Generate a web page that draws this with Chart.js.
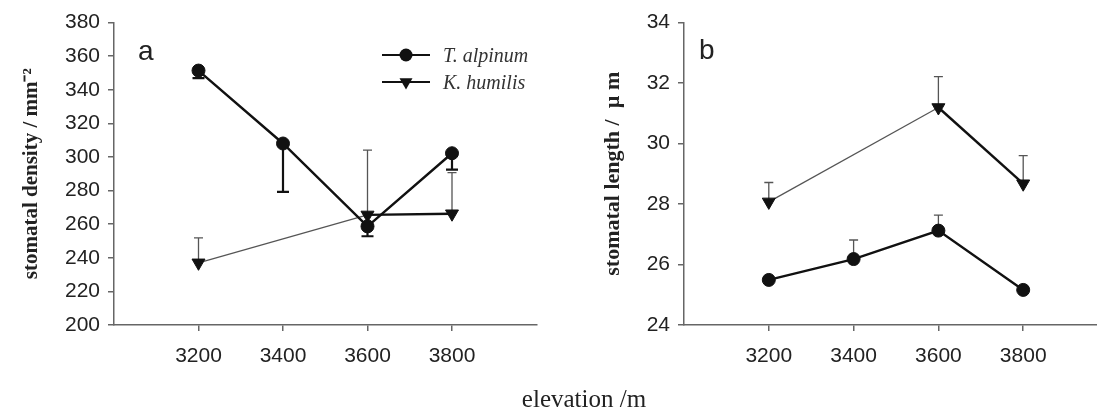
<!DOCTYPE html>
<html><head><meta charset="utf-8">
<script src="https://cdn.jsdelivr.net/npm/chart.js@4.4.0/dist/chart.umd.min.js"></script>
<style>
html,body{margin:0;padding:0;background:#fff;overflow:hidden;width:1097px;height:409px;}
#wrap{position:relative;width:1097px;height:409px;overflow:hidden;background:#fff;}
canvas{position:absolute;top:0;}
#cA{left:0;} #cB{left:540px;}
#xt{position:absolute;top:386px;left:584px;transform:translateX(-50%);font:25px 'Liberation Serif','Times New Roman',serif;line-height:25px;color:#222;white-space:nowrap;}
</style></head><body>
<div id="wrap">
<canvas id="cA" width="545" height="409"></canvas>
<canvas id="cB" width="580" height="409"></canvas>
<div id="xt">elevation /m</div>
</div>
<script>
// ---- data ----
const elevations = [3200, 3400, 3600, 3800];
const xTicks = [3200, 3400, 3600, 3800];
const tDensity = [351.4, 308, 258.7, 302.2];
const tDensityErr = [4.5, 28.8, 5.9, 9.8];
const kElevations = [3200, 3600, 3800];
const kDensity = [237, 265.5, 266.2];
const kDensityErr = [14.8, 38.5, 24.5];
const tLength = [25.49, 26.18, 27.12, 25.16];
const tLengthErr = [0, 0.63, 0.51, 0];
const kLength = [28.07, 31.19, 28.67];
const kLengthErr = [0.64, 1.02, 0.93];
const seriesNames = ['T. alpinum', 'K. humilis'];

const toPts = (xs, ys) => xs.map((x, i) => ({x: x, y: ys[i]}));

const errorBars = {
  id: 'errorBars',
  beforeDatasetsDraw(chart) {
    const {ctx, scales: {x, y}} = chart;
    chart.data.datasets.forEach(ds => {
      if (!ds.errors) return;
      ctx.save();
      ctx.strokeStyle = ds.errColor;
      ctx.lineWidth = ds.errWidth;
      ds.data.forEach((p, i) => {
        const e = ds.errors[i];
        if (!e) return;
        const px = x.getPixelForValue(p.x);
        const py = y.getPixelForValue(p.y);
        const pe = y.getPixelForValue(p.y + ds.errDir * e);
        ctx.beginPath();
        ctx.moveTo(px, py); ctx.lineTo(px, pe);
        ctx.moveTo(px - ds.capHalf, pe); ctx.lineTo(px + ds.capHalf, pe);
        ctx.stroke();
      });
      ctx.restore();
    });
  }
};

function panelLabel(text, x, y) {
  return {
    id: 'panelLabel',
    afterDraw(chart) {
      const ctx = chart.ctx;
      ctx.save();
      ctx.fillStyle = '#222';
      ctx.font = '28px "Liberation Sans", Arial, sans-serif';
      ctx.textBaseline = 'alphabetic';
      ctx.textAlign = 'left';
      ctx.fillText(text, x, y);
      ctx.restore();
    }
  };
}

const legendPlugin = {
  id: 'customLegend',
  afterDraw(chart) {
    const ctx = chart.ctx;
    ctx.save();
    const rows = [{y: 55, tb: 61.5, style: 'circle'}, {y: 82, tb: 88.5, style: 'tri'}];
    rows.forEach((r, i) => {
      ctx.strokeStyle = '#111';
      ctx.lineWidth = 2.2;
      ctx.beginPath(); ctx.moveTo(382, r.y); ctx.lineTo(430, r.y); ctx.stroke();
      ctx.fillStyle = '#111';
      ctx.beginPath();
      if (r.style === 'circle') {
        ctx.arc(406, r.y, 6.5, 0, Math.PI * 2);
      } else {
        const rad = 7.5;
        ctx.moveTo(406, r.y + rad);
        ctx.lineTo(406 - rad * 0.866, r.y - rad / 2);
        ctx.lineTo(406 + rad * 0.866, r.y - rad / 2);
        ctx.closePath();
      }
      ctx.fill();
      ctx.fillStyle = '#333';
      ctx.font = 'italic 20px "Liberation Serif", "Times New Roman", serif';
      ctx.textBaseline = 'alphabetic';
      ctx.fillText(seriesNames[i], 443, r.tb);
    });
    ctx.restore();
  }
};

function makeOptions(cfg) {
  return {
    responsive: false,
    animation: false,
    events: [],
    layout: {padding: {left: cfg.padLeft, right: cfg.padRight, top: 22.5, bottom: 0}},
    plugins: {legend: {display: false}, tooltip: {enabled: false}},
    scales: {
      x: {
        type: 'linear', min: 3000, max: 4000,
        afterBuildTicks: s => { s.ticks = xTicks.map(v => ({value: v})); },
        afterFit: s => { s.height = 84; },
        border: {display: true, color: '#666', width: 1.5},
        grid: {display: true, drawOnChartArea: false, drawTicks: true, tickLength: 6, color: '#666', lineWidth: 1.5},
        ticks: {padding: 13, color: '#222', font: {family: '"Liberation Sans", Arial, sans-serif', size: 21}, callback: v => String(v), maxRotation: 0, autoSkip: false}
      },
      y: {
        min: cfg.ymin, max: cfg.ymax,
        afterFit: s => { s.width = cfg.yWidth; },
        border: {display: true, color: '#666', width: 1.5},
        grid: {display: true, drawOnChartArea: false, drawTicks: true, tickLength: 6, color: '#666', lineWidth: 1.5},
        ticks: {stepSize: cfg.step, padding: 8, color: '#222', font: {family: '"Liberation Sans", Arial, sans-serif', size: 21}, callback: v => String(v)},
        title: {display: true, text: cfg.title, color: '#222', padding: {top: 4, bottom: 0},
          font: {family: '"Liberation Serif", "Times New Roman", serif', size: cfg.titleSize, weight: 'bold'}}
      }
    }
  };
}

function datasets(tVals, tErr, kVals, kErr, tErrStyle) {
  return [
    {
      label: seriesNames[0],
      data: toPts(elevations, tVals),
      borderColor: '#111', borderWidth: 2.4, tension: 0,
      pointStyle: 'circle', pointRadius: 6.5, pointBackgroundColor: '#111', pointBorderColor: '#111', pointBorderWidth: 1,
      errors: tErr, errDir: tErrStyle.dir, errColor: tErrStyle.color, errWidth: tErrStyle.width, capHalf: tErrStyle.cap
    },
    {
      label: seriesNames[1],
      data: toPts(kElevations, kVals),
      borderColor: '#111', borderWidth: 2.4, tension: 0,
      segment: {
        borderWidth: c => c.p0DataIndex === 0 ? 1.2 : 2.4,
        borderColor: c => c.p0DataIndex === 0 ? '#555' : '#111'
      },
      pointStyle: 'triangle', pointRotation: 180, pointRadius: 7.5, pointBackgroundColor: '#111', pointBorderColor: '#111', pointBorderWidth: 1,
      errors: kErr, errDir: 1, errColor: '#555', errWidth: 1.3, capHalf: 4.5
    }
  ];
}

new Chart(document.getElementById('cA'), {
  type: 'line',
  data: {datasets: datasets(tDensity, tDensityErr, kDensity, kDensityErr, {dir: -1, color: '#111', width: 2.2, cap: 6})},
  options: makeOptions({padLeft: 15.4, padRight: 6, yWidth: 98.6, ymin: 200, ymax: 380, step: 20, titleSize: 21, title: 'stomatal density / mm\u207B\u00B2'}),
  plugins: [errorBars, legendPlugin, panelLabel('a', 138, 60)]
});

new Chart(document.getElementById('cB'), {
  type: 'line',
  data: {datasets: datasets(tLength, tLengthErr, kLength, kLengthErr, {dir: 1, color: '#555', width: 1.3, cap: 4.5})},
  options: makeOptions({padLeft: 56.4, padRight: 12, yWidth: 87.6, ymin: 24, ymax: 34, step: 2, titleSize: 22, title: 'stomatal length /  \u00B5 m'}),
  plugins: [errorBars, panelLabel('b', 159, 58.5)]
});
</script>
</body></html>
